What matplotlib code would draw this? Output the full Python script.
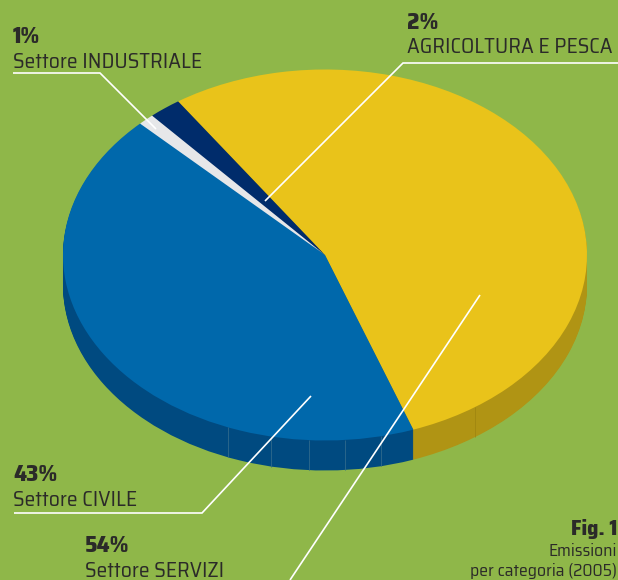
import matplotlib
matplotlib.use("Agg")
import matplotlib.pyplot as plt
import numpy as np

categories = ["Settore SERVIZI", "AGRICOLTURA E PESCA", "Settore INDUSTRIALE", "Settore CIVILE"]
values = [54, 2, 1, 43]
percent_labels = ["54%", "2%", "1%", "43%"]
top_colors = ["#E9C31A", "#002C6B", "#E6E7E9", "#0068AB"]
wall_colors = ["#B09414", "#002C6B", "#E6E7E9", "#004A80"]

W, H = 618, 580
CX, CY, RX, RY, DEPTH = 325, 255, 262, 185.5, 30
BG = "#8FB749"
INK = "#2B2A29"
FONT = ["Saira SemiCondensed", "DejaVu Sans"]

fig = plt.figure(figsize=(W / 100, H / 100), dpi=100, facecolor=BG)

# Pie axes: one data unit equals RX px horizontally and RY px vertically
ax = fig.add_axes([0, 0, 1, 1])
for d in range(DEPTH, -1, -1):
    colors = top_colors if d == 0 else wall_colors
    ax.pie(values, colors=colors, startangle=-70.3, counterclock=True,
           center=(0, -d / RY), radius=1, normalize=True,
           wedgeprops={"linewidth": 0})
ax.set_aspect("auto")
ax.set_xlim(-CX / RX, (W - CX) / RX)
ax.set_ylim(-(H - CY) / RY, CY / RY)
ax.set_axis_off()

# Overlay in pixel coordinates for leaders and labels
ov = fig.add_axes([0, 0, 1, 1], facecolor="none")
ov.set_xlim(0, W)
ov.set_ylim(H, 0)
ov.set_axis_off()


def seam(x, color):
    y = CY + RY * np.sqrt(1 - ((x - CX) / RX) ** 2)
    ov.plot([x, x], [y, y + DEPTH], color=color, lw=0.6, solid_capstyle="butt")


for x in [228, 271, 309, 345, 381]:
    seam(x, "#2F6A8C")
seam(475, "#A08610")

leaders = [
    ([480, 290], [295, 580]),
    ([618, 403, 265], [63, 63, 201]),
    ([13, 100, 156], [73, 73, 129]),
    ([14, 202, 311], [513, 513, 396]),
]
for xs, ys in leaders:
    ov.plot(xs, ys, color="white", lw=1.2, solid_joinstyle="miter", solid_capstyle="butt")

label_pos = [(85, 552, 577), (407, 29, 53), (13, 43, 68), (13, 481, 506)]
for (x, y1, y2), pct, name in zip(label_pos, percent_labels, categories):
    ov.text(x, y1, pct, family=FONT, weight=800, fontsize=16.5, color=INK, va="baseline", ha="left")
    ov.text(x, y2, name, family=FONT, weight=400, fontsize=15.5, color=INK, va="baseline", ha="left")

ov.text(617, 535, "Fig. 1", family=FONT, weight=800, fontsize=15.5, color=INK, ha="right", va="baseline")
ov.text(617, 556, "Emissioni", family=FONT, weight=400, fontsize=12.7, color=INK, ha="right", va="baseline")
ov.text(617, 576, "per categoria (2005)", family=FONT, weight=400, fontsize=12.7, color=INK, ha="right", va="baseline")

fig.savefig("out.png", dpi=100, facecolor=BG)
